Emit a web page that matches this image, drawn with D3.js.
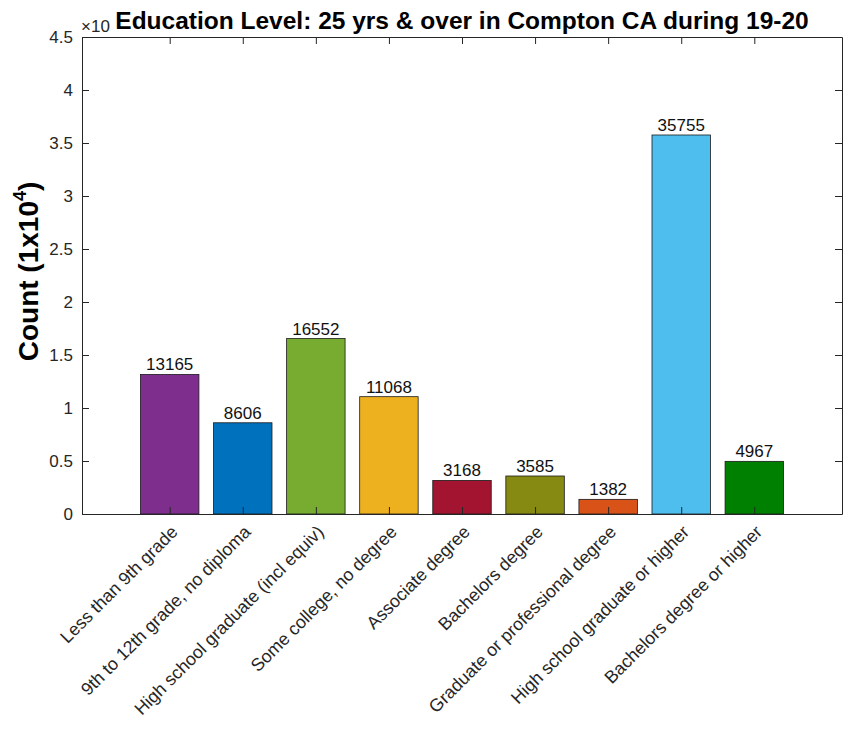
<!DOCTYPE html>
<html>
<head>
<meta charset="utf-8">
<script src="https://cdn.jsdelivr.net/npm/d3@7"></script>
<style>
  html, body { margin: 0; padding: 0; background: #fff; }
  svg { display: block; font-family: "Liberation Sans", Arial, Helvetica, sans-serif; }
</style>
</head>
<body>
<svg id="chart" width="846" height="730"></svg>
<script>
const categories = [
  "Less than 9th grade",
  "9th to 12th grade, no diploma",
  "High school graduate (incl equiv)",
  "Some college, no degree",
  "Associate degree",
  "Bachelors degree",
  "Graduate or professional degree",
  "High school graduate or higher",
  "Bachelors degree or higher"
];
const counts = [13165, 8606, 16552, 11068, 3168, 3585, 1382, 35755, 4967];
const barColors = ["#7E2F8E", "#0072BD", "#77AC30", "#EDB120", "#A2142F", "#878A12", "#D95319", "#4DBEEE", "#008000"];
const yTicks = [0, 0.5, 1, 1.5, 2, 2.5, 3, 3.5, 4, 4.5];
const titleText = "Education Level: 25 yrs & over in Compton CA during 19-20";

const svg = d3.select("#chart");
const mL = 82, mR = 842, mT = 37, mB = 514;

const x = d3.scaleLinear().domain([-0.2, 10.2]).range([mL, mR]);
const y = d3.scaleLinear().domain([0, 45000]).range([mB, mT]);
const barW = 0.8;
const idx = categories.map((c, i) => i + 1);

// bars
svg.append("g").selectAll("rect").data(counts).join("rect")
  .attr("x", (d, i) => x(i + 1 - barW / 2))
  .attr("width", x(barW) - x(0))
  .attr("y", d => y(d))
  .attr("height", d => y(0) - y(d))
  .attr("fill", (d, i) => barColors[i])
  .attr("stroke", "#1a1a1a")
  .attr("stroke-width", 0.8);

// value labels
svg.append("g").selectAll("text").data(counts).join("text")
  .attr("x", (d, i) => x(i + 1))
  .attr("y", d => y(d) - 4)
  .attr("text-anchor", "middle")
  .attr("font-size", 17)
  .attr("fill", "#111")
  .text(d => d);

// axes (MATLAB style, ticks inward, box on)
const tickLen = 7;
const yTickVals = yTicks.map(t => t * 10000);
const axL = svg.append("g").attr("transform", `translate(${mL},0)`)
  .call(d3.axisLeft(y).tickValues(yTickVals).tickSizeInner(-tickLen).tickSizeOuter(0).tickPadding(9)
    .tickFormat(d => d3.format("~g")(d / 10000)));
const axR = svg.append("g").attr("transform", `translate(${mR},0)`)
  .call(d3.axisRight(y).tickValues(yTickVals).tickSizeInner(-tickLen).tickSizeOuter(0).tickFormat(""));
const axB = svg.append("g").attr("transform", `translate(0,${mB})`)
  .call(d3.axisBottom(x).tickValues(idx).tickSizeInner(-tickLen).tickSizeOuter(0).tickFormat(""));
const axT = svg.append("g").attr("transform", `translate(0,${mT})`)
  .call(d3.axisTop(x).tickValues(idx).tickSizeInner(-tickLen).tickSizeOuter(0).tickFormat(""));
[axL, axR, axB, axT].forEach(a => {
  a.selectAll("path.domain").attr("stroke", "#262626").attr("stroke-width", 1);
  a.selectAll(".tick line").attr("stroke", "#262626").attr("stroke-width", 1);
});
axL.selectAll(".tick text").attr("font-size", 17).attr("fill", "#262626")
  .attr("font-family", "Liberation Sans, Arial, sans-serif");

// x tick labels rotated
svg.append("g").selectAll("text").data(categories).join("text")
  .attr("transform", (d, i) => `translate(${x(i + 1) + 9},${mB + 19}) rotate(-45)`)
  .attr("text-anchor", "end")
  .attr("font-size", 17.8)
  .attr("fill", "#262626")
  .text(d => d);

// exponent
svg.append("text").attr("x", mL - 1).attr("y", 32)
  .attr("font-size", 17).attr("fill", "#262626").text("×10");

// title
svg.append("text").attr("x", (mL + mR) / 2).attr("y", 29)
  .attr("text-anchor", "middle").attr("font-size", 24.5).attr("font-weight", "bold")
  .attr("fill", "#000").text(titleText);

// y label
const yl = svg.append("text")
  .attr("transform", `translate(38,${(mT + mB) / 2 - 4}) rotate(-90)`)
  .attr("text-anchor", "middle").attr("font-size", 28).attr("font-weight", "bold")
  .attr("fill", "#000");
yl.append("tspan").text("Count (1x10");
yl.append("tspan").attr("font-size", 18).attr("dy", -12).text("4");
yl.append("tspan").attr("dy", 12).text(")");
</script>
</body>
</html>
